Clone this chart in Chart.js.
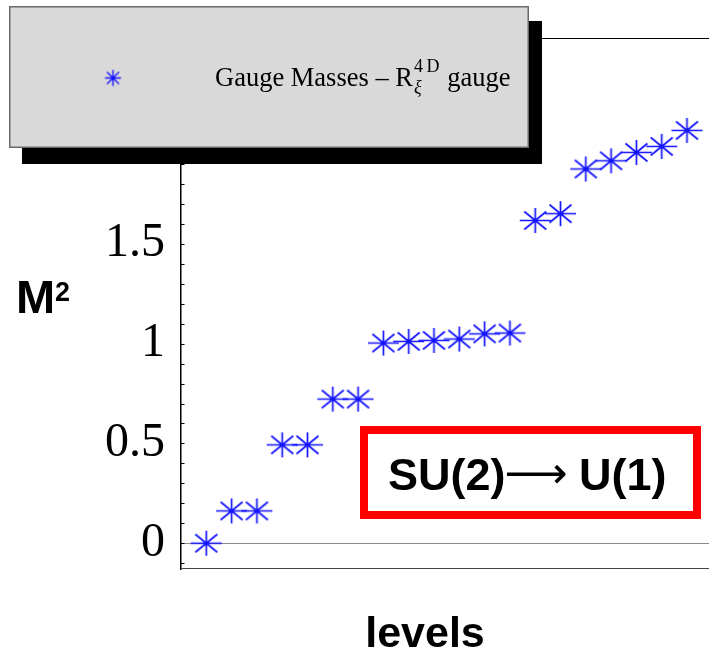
<!DOCTYPE html>
<html>
<head>
<meta charset="utf-8">
<script src="https://cdn.jsdelivr.net/npm/chart.js@4/dist/chart.umd.min.js"></script>
<style>
  html, body { margin: 0; padding: 0; background: #fff; }
  canvas { display: block; }
</style>
</head>
<body>
<canvas id="c" width="709" height="653"></canvas>
<script>
// Gauge boson mass spectrum, SU(2) -> U(1) breaking
const levels = [1, 2, 3, 4, 5, 6, 7, 8, 9, 10, 11, 12, 13, 14, 15, 16, 17, 18, 19, 20];
const massSquared = [0, 0.162, 0.162, 0.493, 0.493, 0.722, 0.722,
  1.003, 1.011, 1.016, 1.023, 1.049, 1.053,
  1.617, 1.651, 1.875, 1.916, 1.958, 1.988, 2.068];
const yTickLabels = [0, 0.5, 1, 1.5];
const frameTop = 2.532;   // value of the upper frame line
const seriesName = 'Gauge Masses \u2013 R';
const groupFrom = 'SU(2)';
const groupArrow = '\u27f6';
const groupTo = ' U(1)';
const yTitle = 'M';
const xTitle = 'levels';

const BLUE = '#1414ff';

// asterisk marker: vertical, horizontal and two diagonal strokes
function asterisk(w, h, vy, hx, dx, dy, lw) {
  const c = document.createElement('canvas');
  c.width = w; c.height = h;
  const g = c.getContext('2d');
  const cx = w / 2, cy = h / 2;
  g.strokeStyle = BLUE;
  g.lineWidth = lw;
  g.beginPath();
  g.moveTo(cx, cy - vy); g.lineTo(cx, cy + vy);
  g.moveTo(cx - hx, cy); g.lineTo(cx + hx, cy);
  g.moveTo(cx - dx, cy - dy); g.lineTo(cx + dx, cy + dy);
  g.moveTo(cx - dx, cy + dy); g.lineTo(cx + dx, cy - dy);
  g.stroke();
  g.fillStyle = BLUE;
  g.beginPath(); g.arc(cx, cy, 1.8, 0, Math.PI * 2); g.fill();
  return c;
}
const starMark = asterisk(33, 27, 12.5, 15.5, 11, 9, 1.7);
const legendMark = asterisk(19, 19, 8, 8, 6, 6, 1.4);

const points = levels.map((x, i) => ({ x: x, y: massSquared[i] }));

const decorations = {
  id: 'decorations',
  beforeDatasetsDraw(chart) {
    const { ctx, chartArea: a, scales: { y } } = chart;
    ctx.save();
    // zero line
    const y0 = Math.round(y.getPixelForValue(0)) + 0.5;
    ctx.strokeStyle = '#8a8a8a';
    ctx.lineWidth = 1.2;
    ctx.beginPath(); ctx.moveTo(a.left, y0); ctx.lineTo(a.right, y0); ctx.stroke();
    // frame top and bottom
    const yt = Math.round(y.getPixelForValue(frameTop)) + 0.5;
    ctx.strokeStyle = '#000';
    ctx.lineWidth = 1.2;
    ctx.beginPath(); ctx.moveTo(a.left, yt); ctx.lineTo(a.right, yt); ctx.stroke();
    ctx.beginPath(); ctx.moveTo(a.left + 0.5, yt); ctx.lineTo(a.left + 0.5, a.top); ctx.stroke();
    ctx.strokeStyle = '#444';
    ctx.beginPath(); ctx.moveTo(a.left, a.bottom - 0.5); ctx.lineTo(a.right, a.bottom - 0.5); ctx.stroke();
    // inward tick marks on the value axis
    ctx.strokeStyle = '#000';
    ctx.lineWidth = 1;
    y.ticks.forEach(t => {
      const py = Math.round(y.getPixelForValue(t.value)) + 0.5;
      ctx.beginPath(); ctx.moveTo(a.left, py); ctx.lineTo(a.left + 3.5, py); ctx.stroke();
    });
    ctx.restore();
  },
  afterDraw(chart) {
    const { ctx } = chart;
    ctx.save();
    // legend panel with drop shadow
    ctx.fillStyle = '#000';
    ctx.fillRect(22, 21, 520, 143);
    ctx.fillStyle = '#d9d9d9';
    ctx.fillRect(9, 6, 520, 142);
    ctx.strokeStyle = '#6a6a6a';
    ctx.lineWidth = 1.5;
    ctx.strokeRect(9.75, 6.75, 518.5, 140.5);
    ctx.drawImage(legendMark, 113 - legendMark.width / 2, 78 - legendMark.height / 2);
    ctx.fillStyle = '#000';
    ctx.textBaseline = 'alphabetic';
    ctx.textAlign = 'left';
    let x = 215;
    const base = 86;
    const serif = '"Liberation Serif", "DejaVu Serif", serif';
    ctx.font = '26.5px ' + serif;
    ctx.fillText(seriesName, x, base);
    x += ctx.measureText(seriesName).width;
    ctx.font = 'italic 18px ' + serif;
    ctx.fillText('\u03be', x + 1, base + 7);
    ctx.font = '18px ' + serif;
    ctx.fillText('4\u2009D', x + 1, base - 14);
    x += ctx.measureText('4\u2009D').width + 2;
    ctx.font = '26.5px ' + serif;
    ctx.fillText(' gauge', x, base);

    // symmetry breaking label
    ctx.strokeStyle = '#ff0000';
    ctx.lineWidth = 8;
    ctx.strokeRect(364, 430, 333, 85);
    ctx.fillStyle = '#000';
    ctx.textAlign = 'left';
    const sans = '"Liberation Sans", Arial, sans-serif';
    let bx = 388;
    ctx.font = 'bold 45px ' + sans;
    ctx.fillText(groupFrom, bx, 490);
    bx += ctx.measureText(groupFrom).width;
    ctx.font = '44px "DejaVu Sans", sans-serif';
    ctx.fillText(groupArrow, bx - 1, 488);
    bx += ctx.measureText(groupArrow).width - 2;
    ctx.font = 'bold 45px ' + sans;
    ctx.fillText(groupTo, bx, 490);

    // axis titles
    ctx.font = 'bold 47px ' + sans;
    ctx.fillText(yTitle, 16, 313);
    ctx.font = 'bold 27px ' + sans;
    ctx.fillText('2', 55, 301);
    ctx.textAlign = 'center';
    ctx.font = 'bold 43px ' + sans;
    ctx.fillText(xTitle, 425, 647);
    ctx.restore();
  }
};

new Chart(document.getElementById('c'), {
  type: 'scatter',
  data: {
    datasets: [{
      label: seriesName,
      data: points,
      showLine: false,
      pointStyle: starMark,
      pointRadius: 12,
      pointHoverRadius: 12
    }]
  },
  options: {
    responsive: false,
    devicePixelRatio: 1,
    animation: false,
    events: [],
    layout: { autoPadding: false, padding: { top: 31, bottom: 84, left: 0, right: 0 } },
    plugins: { legend: { display: false }, tooltip: { enabled: false } },
    scales: {
      x: {
        type: 'linear',
        display: false,
        min: 0,
        max: 20.87
      },
      y: {
        type: 'linear',
        min: -0.129,
        max: 2.497,
        afterFit(scale) { scale.width = 181; },
        grid: { display: true, drawOnChartArea: false, drawTicks: false },
        border: { display: true, color: '#000', width: 1.5 },
        ticks: {
          stepSize: 0.1,
          includeBounds: false,
          autoSkip: false,
          padding: 16,
          color: '#000',
          font: { family: '"Liberation Serif", "DejaVu Serif", serif', size: 48 },
          callback(v) {
            const r = Math.round(v * 10) / 10;
            return yTickLabels.includes(r) ? String(r) : '';
          }
        }
      }
    }
  },
  plugins: [decorations]
});
</script>
</body>
</html>
